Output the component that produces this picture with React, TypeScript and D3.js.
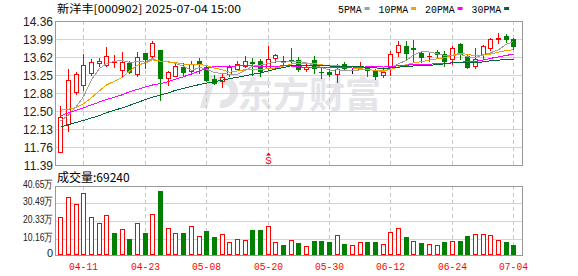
import React from 'react';
import * as d3 from 'd3';

// ---------------- data ----------------
const title = '新洋丰[000902] 2025-07-04 15:00';
const volumeTitle = '成交量';
const lastVolume = '69240';

const dates = [
  '04-08','04-09','04-10','04-11','04-14','04-15','04-16','04-17','04-18','04-21',
  '04-22','04-23','04-24','04-25','04-28','04-29','04-30','05-06','05-07','05-08',
  '05-09','05-12','05-13','05-14','05-15','05-16','05-19','05-20','05-21','05-22',
  '05-23','05-26','05-27','05-28','05-29','05-30','06-03','06-04','06-05','06-06',
  '06-09','06-10','06-11','06-12','06-13','06-16','06-17','06-18','06-19','06-20',
  '06-23','06-24','06-25','06-26','06-27','06-30','07-01','07-02','07-03','07-04',
];

const opens = [
  11.66, 12.24, 12.90, 13.03, 13.29, 13.49, 13.46, 13.51, 13.34, 13.49,
  13.27, 13.69, 13.63, 13.76, 13.18, 13.22, 13.42, 13.32, 13.53, 13.42,
  13.16, 13.13, 13.27, 13.37, 13.44, 13.52, 13.53, 13.39, 13.60, 13.53,
  13.56, 13.55, 13.38, 13.55, 13.31, 13.30, 13.27, 13.47, 13.34, 13.38,
  13.40, 13.32, 13.25, 13.41, 13.72, 13.85, 13.80, 13.71, 13.63, 13.72,
  13.68, 13.58, 13.89, 13.63, 13.44, 13.67, 13.80, 13.98, 14.06, 13.99,
];
const highs = [
  12.61, 13.36, 13.30, 13.67, 13.58, 13.59, 13.83, 13.66, 13.72, 13.53,
  13.73, 13.70, 13.95, 13.77, 13.32, 13.49, 13.49, 13.53, 13.60, 13.44,
  13.25, 13.29, 13.46, 13.53, 13.63, 13.60, 13.58, 13.85, 13.67, 13.64,
  13.80, 13.62, 13.47, 13.64, 13.40, 13.36, 13.47, 13.51, 13.39, 13.51,
  13.42, 13.37, 13.39, 13.75, 13.95, 13.95, 13.97, 13.75, 13.72, 13.77,
  13.75, 13.85, 13.90, 13.65, 13.80, 13.87, 14.01, 14.11, 14.09, 14.01,
];
const lows = [
  11.66, 12.10, 12.86, 12.93, 13.25, 13.44, 13.44, 13.42, 13.22, 13.29,
  13.22, 13.40, 13.61, 12.74, 13.03, 13.22, 13.22, 13.27, 13.29, 13.13,
  13.07, 12.99, 13.23, 13.34, 13.42, 13.24, 13.22, 13.37, 13.52, 13.42,
  13.50, 13.32, 13.32, 13.28, 13.18, 13.22, 13.10, 13.36, 13.29, 13.36,
  13.22, 13.17, 13.20, 13.25, 13.63, 13.56, 13.51, 13.51, 13.53, 13.61,
  13.44, 13.47, 13.58, 13.40, 13.39, 13.60, 13.76, 13.91, 13.92, 13.78,
];
const closes = [
  12.38, 13.14, 13.27, 13.45, 13.51, 13.53, 13.63, 13.53, 13.52, 13.31,
  13.62, 13.58, 13.91, 13.18, 13.31, 13.44, 13.30, 13.47, 13.48, 13.15,
  13.08, 13.20, 13.41, 13.48, 13.54, 13.50, 13.32, 13.58, 13.65, 13.51,
  13.54, 13.36, 13.41, 13.40, 13.30, 13.27, 13.37, 13.39, 13.34, 13.39,
  13.34, 13.22, 13.30, 13.67, 13.87, 13.69, 13.78, 13.62, 13.64, 13.68,
  13.53, 13.80, 13.68, 13.42, 13.58, 13.85, 13.99, 14.00, 13.99, 13.85,
];

// volume in 万 (10k)
const volumes = [
  22.9, 34.2, 30.2, 36.5, 22.9, 19.4, 24.0, 13.9, 16.0, 10.3,
  19.4, 13.9, 24.6, 37.8, 16.6, 13.8, 13.9, 17.5, 11.8, 15.1,
  11.7, 13.2, 8.6, 10.3, 9.8, 15.6, 15.6, 17.7, 8.6, 7.1,
  9.9, 8.1, 6.4, 9.4, 9.4, 8.8, 12.6, 7.7, 6.9, 8.6,
  8.8, 8.8, 7.5, 14.5, 16.6, 11.5, 9.2, 8.1, 7.5, 6.9,
  8.8, 9.4, 9.4, 12.1, 13.2, 13.2, 12.6, 9.9, 8.8, 6.924,
];
// 1 = up (red) volume bar, 0 = down (green)
const volumeUp = [
  1,1,1,1,1,1,1,0,1,0, 1,0,1,0,1,1,0,1,1,0,
  0,1,1,1,1,0,0,1,1,0, 1,0,1,0,0,0,1,0,1,1,
  0,0,1,1,1,0,1,0,1,1, 0,1,0,0,1,1,1,1,0,0,
];

const ma5Head = [12.30, 12.42, 12.60, 12.80];
const ma10Head = [12.52, 12.54, 12.58, 12.65, 12.78, 12.92, 13.04, 13.12, 13.20];
const ma20Head = [12.40, 12.47, 12.52, 12.57, 12.63, 12.69, 12.74, 12.79, 12.84, 12.90,
  12.95, 13.00, 13.04, 13.07, 13.11, 13.16, 13.21, 13.27, 13.33];
const ma30Head = [12.17, 12.22, 12.27, 12.31, 12.36, 12.41, 12.47, 12.52, 12.57, 12.62,
  12.68, 12.74, 12.79, 12.83, 12.88, 12.93, 12.97, 13.01, 13.05, 13.08,
  13.11, 13.14, 13.17, 13.20, 13.23, 13.26, 13.29, 13.33, 13.37];

const maLabels = ['5PMA', '10PMA', '20PMA', '30PMA'];
const maPeriods = [5, 10, 20, 30];

const priceTicks = ['14.36', '13.99', '13.62', '13.25', '12.88', '12.50', '12.13', '11.76', '11.39'];
const volumeTicks = ['40.65万', '30.49万', '20.33万', '10.16万', '0'];
const dateTicks = ['04-11', '04-23', '05-08', '05-20', '05-30', '06-12', '06-24', '07-04'];
const signalDates = ['05-20'];

// ---------------- styles ----------------
const RED = '#ff0000';
const GREEN = '#008000';
const MA_COLORS = ['#a0a0a0', '#f0a000', '#ff00ff', '#006633'];
const GRID = '#d4d4d4';
const FRAME = '#999999';
const CJK = '"Noto Sans CJK SC", "Noto Sans", sans-serif';
const SANS = '"Liberation Sans", Arial, sans-serif';
const MONO = '"Liberation Mono", "DejaVu Sans Mono", monospace';

function movingAverage(n: number, head: number[]): number[] {
  return closes.map((_, i) =>
    i < n - 1 ? head[i] : (d3.mean(closes.slice(i - n + 1, i + 1)) as number)
  );
}

export default function App() {
  const L = 55, R = 522;
  const mainTop = 21, mainBot = 165;
  const volTop = 186, volBot = 255;

  const x = d3.scalePoint<string>().domain(dates).range([60.3, 513.3]);
  const y = d3.scaleLinear().domain([11.39, 14.36]).range([mainBot, mainTop]);
  const vy = d3.scaleLinear().domain([0, 40.65]).range([257, volTop]);

  const cxs = dates.map((d) => Math.round(x(d) as number));
  const mas = [movingAverage(5, ma5Head), movingAverage(10, ma10Head),
    movingAverage(20, ma20Head), movingAverage(30, ma30Head)];
  const line = d3.line<number>().x((_, i) => cxs[i] + 0.5).y((v) => y(v));

  const py = (v: number) => Math.round(y(v));

  // legend layout
  let lx = 338;
  const legendItems = maLabels.map((lab, k) => {
    const w = lab.length * 5.9;
    const item = { lab, tx: lx, w, sx: lx + w + 3, color: MA_COLORS[k] };
    lx = lx + w + 3 + 5 + 9;
    return item;
  });

  return (
    <svg width={578} height={276} viewBox="0 0 578 276"
      style={{ position: 'absolute', left: 0, top: 0, background: '#fff' }}>
      <rect x={0} y={0} width={578} height={276} fill="#fff" />

      {/* title */}
      <text x={57} y={13} fontFamily={CJK} fontSize={11} fill="#000" textLength={184}
        lengthAdjust="spacingAndGlyphs">{title}</text>

      {/* legend */}
      {legendItems.map((it) => (
        <g key={it.lab}>
          <text x={it.tx} y={12.5} fontFamily={MONO} fontSize={11} fill="#000"
            textLength={it.w} lengthAdjust="spacingAndGlyphs">{it.lab}</text>
          <rect x={it.sx} y={7} width={5} height={3} fill={it.color} />
        </g>
      ))}

      {/* watermark */}
      <g fill="#e4e4e9">
        <path d={d3.arc()({ innerRadius: 8, outerRadius: 16, startAngle: -0.15 * Math.PI, endAngle: 1.05 * Math.PI }) as string}
          transform="translate(222,92)" />
        <path d="M200,108 L209,76 L216,76 L207,108 Z" />
        <text x={237} y={108} fontFamily={CJK} fontSize={36} fontWeight={700}>东方财富</text>
      </g>

      {/* main grid */}
      <g shapeRendering="crispEdges">
        {priceTicks.map((t) => (
          <line key={t} x1={L} x2={R} y1={py(+t) + 0.5} y2={py(+t) + 0.5} stroke={GRID} />
        ))}
        {volumeTicks.map((t) => {
          const v = parseFloat(t);
          const yy = Math.min(Math.floor(vy(v)), volBot) + 0.5;
          return <line key={t} x1={L} x2={R} y1={yy} y2={yy} stroke={GRID} />;
        })}
        {dateTicks.map((d) => {
          const xx = cxs[dates.indexOf(d)] + 0.5;
          return (
            <g key={d}>
              <line x1={xx} x2={xx} y1={mainTop} y2={mainBot} stroke="#c8c8c8" strokeDasharray="4,3" />
              <line x1={xx} x2={xx} y1={volTop} y2={volBot} stroke="#c8c8c8" strokeDasharray="4,3" />
            </g>
          );
        })}
        <rect x={L + 0.5} y={mainTop + 0.5} width={R - L} height={mainBot - mainTop} fill="none" stroke={FRAME} />
        <rect x={L + 0.5} y={volTop + 0.5} width={R - L} height={volBot - volTop} fill="none" stroke={FRAME} />
      </g>

      {/* candles */}
      <g shapeRendering="crispEdges">
        {dates.map((d, i) => {
          const o = opens[i], c = closes[i];
          const cx = cxs[i];
          const top = py(Math.max(o, c));
          const bot = py(Math.min(o, c));
          const color = c > o ? RED : c < o ? GREEN : '#000';
          return (
            <g key={d}>
              <line x1={cx + 0.5} x2={cx + 0.5} y1={py(highs[i])} y2={py(lows[i]) + 1} stroke={color} />
              {c > o ? (
                bot - top >= 2 ? (
                  <rect x={cx - 2 + 0.5} y={top + 0.5} width={4} height={bot - top} fill="#fff" stroke={RED} />
                ) : (
                  <rect x={cx - 2} y={top} width={5} height={Math.max(1, bot - top + 1)} fill={RED} />
                )
              ) : c < o ? (
                <rect x={cx - 2} y={top} width={5} height={Math.max(1, bot - top + 1)} fill={GREEN} />
              ) : (
                <line x1={cx - 2} x2={cx + 3} y1={top + 0.5} y2={top + 0.5} stroke="#000" />
              )}
            </g>
          );
        })}
      </g>

      {/* moving averages */}
      <g fill="none" strokeWidth={1} shapeRendering="crispEdges">
        {mas.map((m, k) => (
          <path key={maPeriods[k]} d={line(m) as string} stroke={MA_COLORS[k]} />
        ))}
      </g>

      {/* signal marks */}
      {signalDates.map((d) => {
        const cx = cxs[dates.indexOf(d)] + 0.5;
        return (
          <g key={d} fill={RED}>
            <path d={`M${cx - 2.5},155.5 L${cx},152.5 L${cx + 2.5},155.5 Z`} />
            <text x={cx} y={164} fontFamily={MONO} fontSize={11} textAnchor="middle">S</text>
          </g>
        );
      })}

      {/* price axis labels */}
      {priceTicks.map((t) => (
        <text key={t} x={53} y={py(+t) + 0.5} dy="0.36em" textAnchor="end"
          fontFamily={SANS} fontSize={12} fill="#222">{t}</text>
      ))}

      {/* volume title */}
      <text x={57} y={182} fontFamily={CJK} fontSize={12} fill="#000">
        {volumeTitle}:{lastVolume}
      </text>

      {/* volume bars */}
      <g shapeRendering="crispEdges">
        {dates.map((d, i) => {
          const cx = cxs[i];
          const top = Math.round(vy(volumes[i]));
          return volumeUp[i] ? (
            <rect key={d} x={cx - 2 + 0.5} y={top + 0.5} width={4} height={volBot - 1 - top} fill="#fff" stroke={RED} />
          ) : (
            <rect key={d} x={cx - 2} y={top} width={5} height={volBot - top} fill={GREEN} />
          );
        })}
      </g>

      {/* volume axis labels */}
      {volumeTicks.map((t) => {
        const v = parseFloat(t);
        const yy = Math.min(Math.floor(vy(v)), volBot) - 1.5;
        return (
          <text key={t} x={53} y={yy} dy="0.36em" textAnchor="end" fontFamily={SANS} fontSize={11}
            fill="#222" {...(t.length > 1 ? { textLength: 30, lengthAdjust: 'spacingAndGlyphs' } : {})}>{t}</text>
        );
      })}

      {/* date labels */}
      {dateTicks.map((d) => (
        <text key={d} x={cxs[dates.indexOf(d)] + 0.5} y={270} textAnchor="middle" fontFamily={MONO}
          fontSize={11} fill={RED} textLength={29} lengthAdjust="spacingAndGlyphs">{d}</text>
      ))}
    </svg>
  );
}
